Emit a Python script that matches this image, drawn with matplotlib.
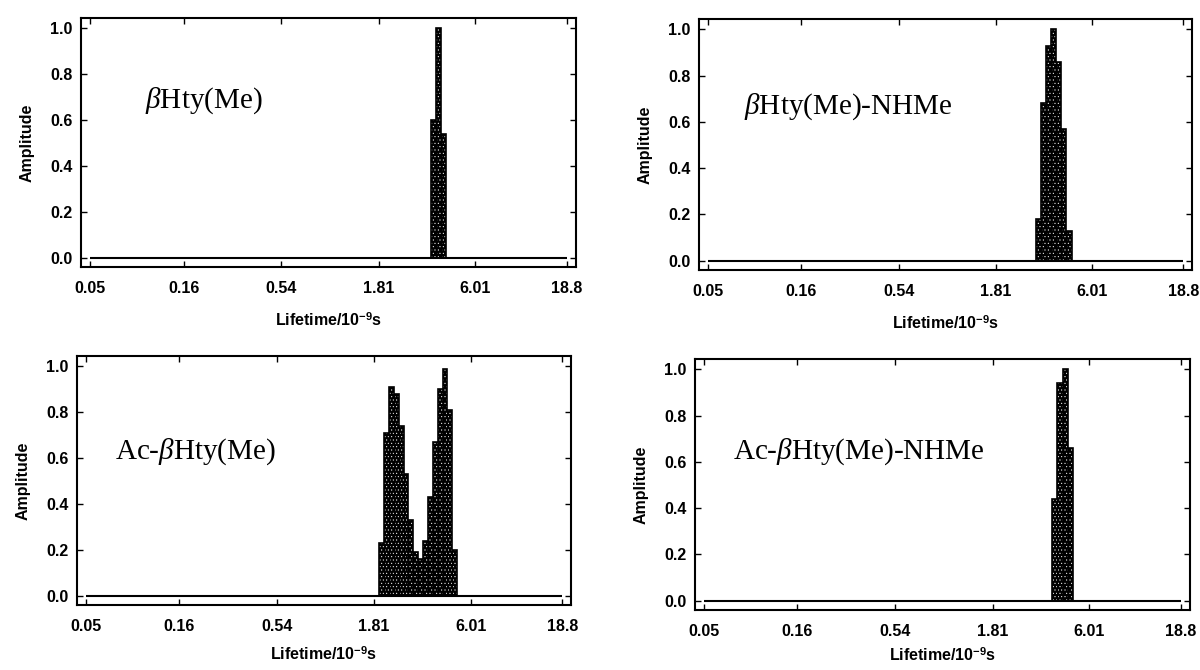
"""
Lifetime distributions (MEM analysis) for four beta-homotyrosine derivatives.
2x2 panels, log lifetime axis, amplitude normalised to 1.
"""

import matplotlib

matplotlib.use("Agg")
import matplotlib.pyplot as plt
import numpy as np
from matplotlib.ticker import FixedLocator, NullLocator

plt.rcParams["font.family"] = ["Liberation Sans", "DejaVu Sans"]
plt.rcParams["mathtext.fontset"] = "custom"
plt.rcParams["mathtext.rm"] = "Liberation Sans:bold"
plt.rcParams["mathtext.bf"] = "Liberation Sans:bold"
plt.rcParams["mathtext.it"] = "Liberation Serif:italic"
plt.rcParams["hatch.linewidth"] = 0.35

# lifetime grid limits and axis ticks (ns)
tau_min, tau_max = 0.05, 18.8
x_ticks = [0.05, 0.16, 0.54, 1.81, 6.01, 18.8]
x_tick_labels = ["0.05", "0.16", "0.54", "1.81", "6.01", "18.8"]
y_ticks = [0.0, 0.2, 0.4, 0.6, 0.8, 1.0]
y_tick_labels = ["0.0", "0.2", "0.4", "0.6", "0.8", "1.0"]

# panel names
names = [r"$\beta$Hty(Me)", r"$\beta$Hty(Me)-NHMe",
         r"Ac-$\beta$Hty(Me)", r"Ac-$\beta$Hty(Me)-NHMe"]

# non-zero bins of each distribution: lifetime (ns) and amplitude
bhty_tau = [3.57, 3.80, 4.05]
bhty_amp = [0.60, 1.00, 0.54]

bhty_nhme_tau = [3.08, 3.29, 3.50, 3.73, 3.98, 4.24, 4.52]
bhty_nhme_amp = [0.18, 0.68, 0.93, 1.00, 0.86, 0.57, 0.13]

ac_bhty_tau = [1.99, 2.11, 2.24, 2.38, 2.53, 2.69, 2.86, 3.04,
               3.23, 3.43, 3.64, 3.87, 4.11, 4.37, 4.64, 4.93]
ac_bhty_amp = [0.23, 0.71, 0.91, 0.88, 0.74, 0.53, 0.33, 0.19,
               0.16, 0.24, 0.43, 0.67, 0.90, 0.99, 0.81, 0.20]

ac_bhty_nhme_tau = [3.93, 4.19, 4.46, 4.76]
ac_bhty_nhme_amp = [0.44, 0.94, 1.00, 0.66]

# figure-fraction rectangles of the four axes, and label spots
rects = [
    [0.0675, 0.6015, 0.4125, 0.3716],
    [0.5825, 0.5970, 0.4110, 0.3746],
    [0.0640, 0.0970, 0.4120, 0.3716],
    [0.5790, 0.0896, 0.4125, 0.3746],
]
name_xy = [(0.129, 0.67), (0.091, 0.65), (0.077, 0.615), (0.077, 0.63)]
xlabel_pads = [11, 11, 8, 5]


def bin_edges(tau):
    # edges half way (in log) between neighbouring lifetimes
    t = np.log10(tau)
    mids = (t[1:] + t[:-1]) / 2
    first = t[0] - (mids[0] - t[0])
    last = t[-1] + (t[-1] - mids[-1])
    return 10 ** np.concatenate([[first], mids, [last]])


def draw_panel(ax, tau, amp, name, pos, xpad):
    edges = bin_edges(tau)
    ax.stairs(amp, edges, fill=True, facecolor="black", edgecolor="white",
              hatch=".....", linewidth=0)
    ax.stairs(amp, edges, fill=False, color="black", linewidth=1.2)
    ax.vlines(edges[1:-1], 0, np.minimum(amp[:-1], amp[1:]),
              color="black", linewidth=0.8)
    ax.hlines(0, tau_min, tau_max, color="black", linewidth=1.5)

    ax.set_xscale("log")
    pad = 10 ** 0.0486
    ax.set_xlim(tau_min / pad, tau_max * pad)
    ax.set_ylim(-0.04, 1.045)
    ax.xaxis.set_major_locator(FixedLocator(x_ticks))
    ax.xaxis.set_minor_locator(NullLocator())
    ax.set_xticklabels(x_tick_labels)
    ax.set_yticks(y_ticks)
    ax.set_yticklabels(y_tick_labels)
    ax.tick_params(direction="in", length=4, width=1.0, top=True, right=True,
                   labelsize=11.5)
    ax.tick_params(axis="x", pad=10)
    ax.tick_params(axis="y", pad=6)
    for lab in ax.get_xticklabels() + ax.get_yticklabels():
        lab.set_fontweight("bold")
    for sp in ax.spines.values():
        sp.set_linewidth(1.5)

    ax.set_ylabel("Amplitude", fontsize=11.5, fontweight="bold", labelpad=11)
    ax.set_xlabel(r"Lifetime/10$^{-9}$s", fontsize=11.5, fontweight="bold",
                  labelpad=xpad)
    ax.text(pos[0], pos[1], name, transform=ax.transAxes, fontsize=21,
            family="Liberation Serif", ha="left", va="center")


fig = plt.figure(figsize=(12, 6.7), dpi=100)
data = [
    (bhty_tau, bhty_amp),
    (bhty_nhme_tau, bhty_nhme_amp),
    (ac_bhty_tau, ac_bhty_amp),
    (ac_bhty_nhme_tau, ac_bhty_nhme_amp),
]
for rect, (tau, amp), name, pos, xpad in zip(rects, data, names, name_xy,
                                             xlabel_pads):
    ax = fig.add_axes(rect)
    draw_panel(ax, np.array(tau), np.array(amp), name, pos, xpad)

fig.savefig("out.png", dpi=100)
